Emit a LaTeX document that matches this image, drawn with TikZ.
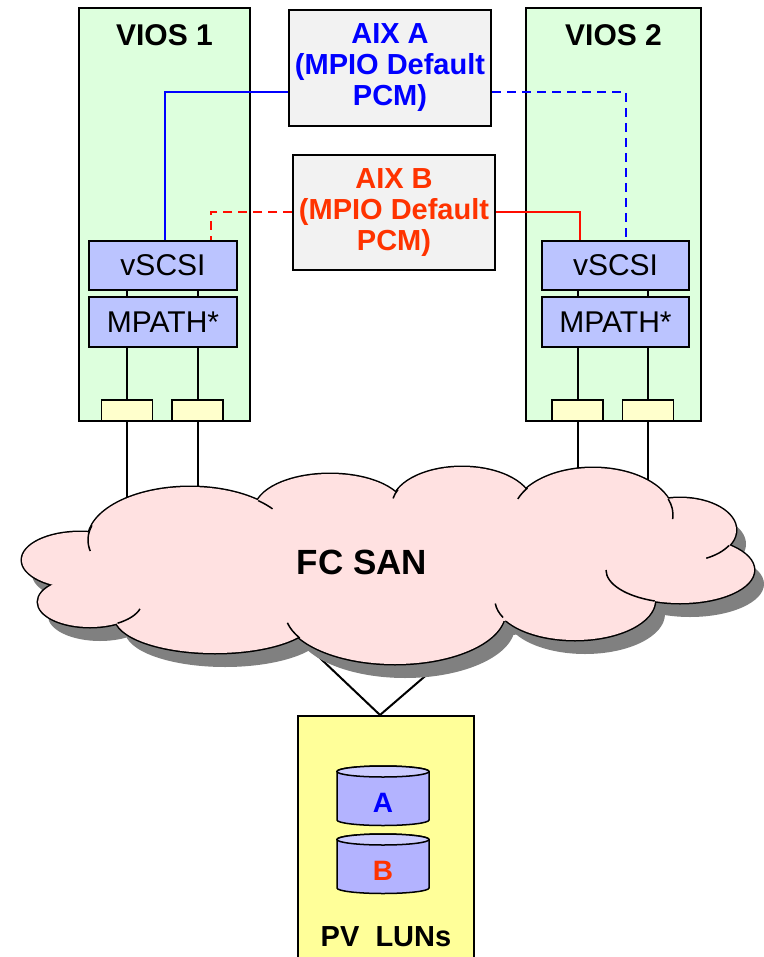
\documentclass[tikz,border=0pt]{standalone}
\usepackage{fontspec}
\setmainfont{Liberation Sans}
\usepackage{xcolor}
\definecolor{viosbg}{HTML}{DDFFDD}
\definecolor{aixbg}{HTML}{F2F2F2}
\definecolor{aixblue}{HTML}{0000FF}
\definecolor{aixred}{HTML}{FF3300}
\definecolor{linkred}{HTML}{FF0D00}
\definecolor{modbg}{HTML}{BBC4FF}
\definecolor{portbg}{HTML}{FFFFCC}
\definecolor{sanbg}{HTML}{FFE1E1}
\definecolor{sanshadow}{HTML}{808080}
\definecolor{lunbg}{HTML}{FFFF99}
\definecolor{diskbg}{HTML}{B3B3FF}
\definecolor{disktop}{HTML}{CCCCFF}

\tikzset{
	viosbox/.style={draw, line width=2pt, fill=viosbg, inner sep=0pt, minimum height=413pt},
	viostitle/.style={font=\bfseries\fontsize{30}{32}\selectfont},
	aixbox/.style={draw, line width=2pt, fill=aixbg, inner sep=0pt, minimum width=202pt, minimum height=116pt, align=center, font=\bfseries\fontsize{29}{31}\selectfont},
	modbox/.style={draw, line width=2pt, fill=modbg, inner sep=0pt, minimum width=148pt, minimum height=49pt, font=\fontsize{30}{32}\selectfont},
	fcport/.style={draw, line width=1.5pt, fill=portbg, inner sep=0pt, minimum width=51pt, minimum height=21pt},
	link/.style={line width=2pt},
	dashlink/.style={line width=2pt, dash pattern=on 9pt off 6pt},
}

\begin{document}
	\begin{tikzpicture}[x=1pt,y=-1pt]
		\useasboundingbox (0,0) rectangle (763,957);
		%
		\node[viosbox, minimum width=171pt] (vios1) at (164.5,214.5) {};
		\node[viosbox, minimum width=175pt] (vios2) at (613.5,214.5) {};
		\node[viostitle] (vios1t) at (164.5,35) {VIOS 1};
		\node[viostitle] (vios2t) at (613.5,35) {VIOS 2};
		%
		\node[aixbox, text=aixblue] (aixa) at (390,68) {AIX A\\(MPIO Default\\PCM)};
		\node[aixbox, text=aixred, minimum height=115pt] (aixb) at (394,212.5) {AIX B\\(MPIO Default\\PCM)};
		%
		\node[modbox] (vscsi1) at (163,265.5) {vSCSI};
		\node[modbox, minimum height=50pt] (mpath1) at (163,322) {MPATH*};
		\node[modbox, minimum width=147pt] (vscsi2) at (615.5,265.5) {vSCSI};
		\node[modbox, minimum width=147pt, minimum height=50pt] (mpath2) at (615.5,322) {MPATH*};
		%
		\node[fcport] (fc1a) at (127,410.5) {};
		\node[fcport] (fc1b) at (197.5,410.5) {};
		\node[fcport] (fc2a) at (577.5,410.5) {};
		\node[fcport] (fc2b) at (648,410.5) {};
		%
		\draw[link, aixblue] ([xshift=2pt]vscsi1.north) |- ([yshift=-24pt]aixa.west);
		\draw[dashlink, aixblue] ([yshift=-24pt]aixa.east) -| ([xshift=10.5pt]vscsi2.north);
		\draw[dashlink, linkred] (aixb.west) -| ([xshift=48pt]vscsi1.north);
		\draw[link, linkred] (aixb.east) -| ([xshift=-35.5pt]vscsi2.north);
		%
		\node[draw, line width=2pt, fill=lunbg, inner sep=0pt, minimum width=176pt, minimum height=246pt] (luns) at (386,839) {};
		\node[font=\bfseries\fontsize{29}{31}\selectfont] (lunst) at (386,937) {PV~~LUNs};
		\coordinate (apex) at ([xshift=-6pt]luns.north);
		%
		\coordinate (sanc) at (362,562);
		\coordinate (sanl) at (301,640);
		\coordinate (sanr) at (467,640);
		\foreach \v/\p in {1/a,1/b,2/a,2/b}{
			\draw[link] (vscsi\v.south -| fc\v\p) -- (mpath\v.north -| fc\v\p);
			\draw[link] (mpath\v.south -| fc\v\p) -- (fc\v\p.north);
			\draw[link] (fc\v\p.south) -- (fc\v\p.south |- sanc);
		}
		\draw[link] (sanl) -- (apex) -- (sanr);
		%
		% cloud: shadow, outline, fill, inner tails
		\def\sanlobes{190/540/102/53, 330/510/75/36, 462/505/70/38, 593/515/80/47, 680/530/56/32, 680/570/74/33, 575/600/80/40, 395/612/110/52, 215/617/100/36, 90/602/52/25, 80/560/58/28}
		\foreach \cx/\cy/\rx/\ry in \sanlobes
			\fill[sanshadow] (\cx+10,\cy+14) ellipse [x radius=\rx pt, y radius=\ry pt];
		\fill[sanshadow] (400,579) ellipse [x radius=310pt, y radius=60pt];
		\foreach \cx/\cy/\rx/\ry in \sanlobes
			\draw[line width=3pt] (\cx,\cy) ellipse [x radius=\rx pt, y radius=\ry pt];
		\foreach \cx/\cy/\rx/\ry in \sanlobes
			\fill[sanbg] (\cx,\cy) ellipse [x radius=\rx pt, y radius=\ry pt];
		\fill[sanbg] (390,565) ellipse [x radius=310pt, y radius=60pt];
		\foreach \cx/\cy/\rx/\ry/\sa/\ea in {680/570/74/33/180/250, 680/530/56/32/-29/-62,
			395/612/110/52/210/192, 190/540/102/53/164/192, 90/602/52/25/-58/-16,
			593/515/80/47/20/-5, 190/540/102/53/48/36, 593/515/80/47/145/160,
			462/505/70/38/156/170, 575/600/80/40/206/185}
			\draw[line width=1.5pt] (\cx,\cy) ++(\sa:\rx pt and \ry pt)
				arc[start angle=\sa, end angle=\ea, x radius=\rx pt, y radius=\ry pt];
		\node[font=\bfseries\fontsize{35}{37}\selectfont] (san) at (sanc) {FC SAN};
		%
		\foreach \cy/\lbl/\col/\nm in {771.5/A/aixblue/luna, 839.5/B/aixred/lunb}{
			\draw[line width=1.5pt, fill=diskbg] (337,\cy) -- (337,\cy+48.5)
				arc[start angle=180, end angle=360, x radius=46pt, y radius=5.5pt]
				-- (429,\cy) arc[start angle=0, end angle=180, x radius=46pt, y radius=5.5pt] -- cycle;
			\draw[line width=1.5pt, fill=disktop] (383,\cy) ellipse [x radius=46pt, y radius=5.5pt];
			\node[text=\col, font=\bfseries\fontsize{28}{30}\selectfont] (\nm) at (383,\cy+31) {\lbl};
		}
	\end{tikzpicture}
\end{document}
